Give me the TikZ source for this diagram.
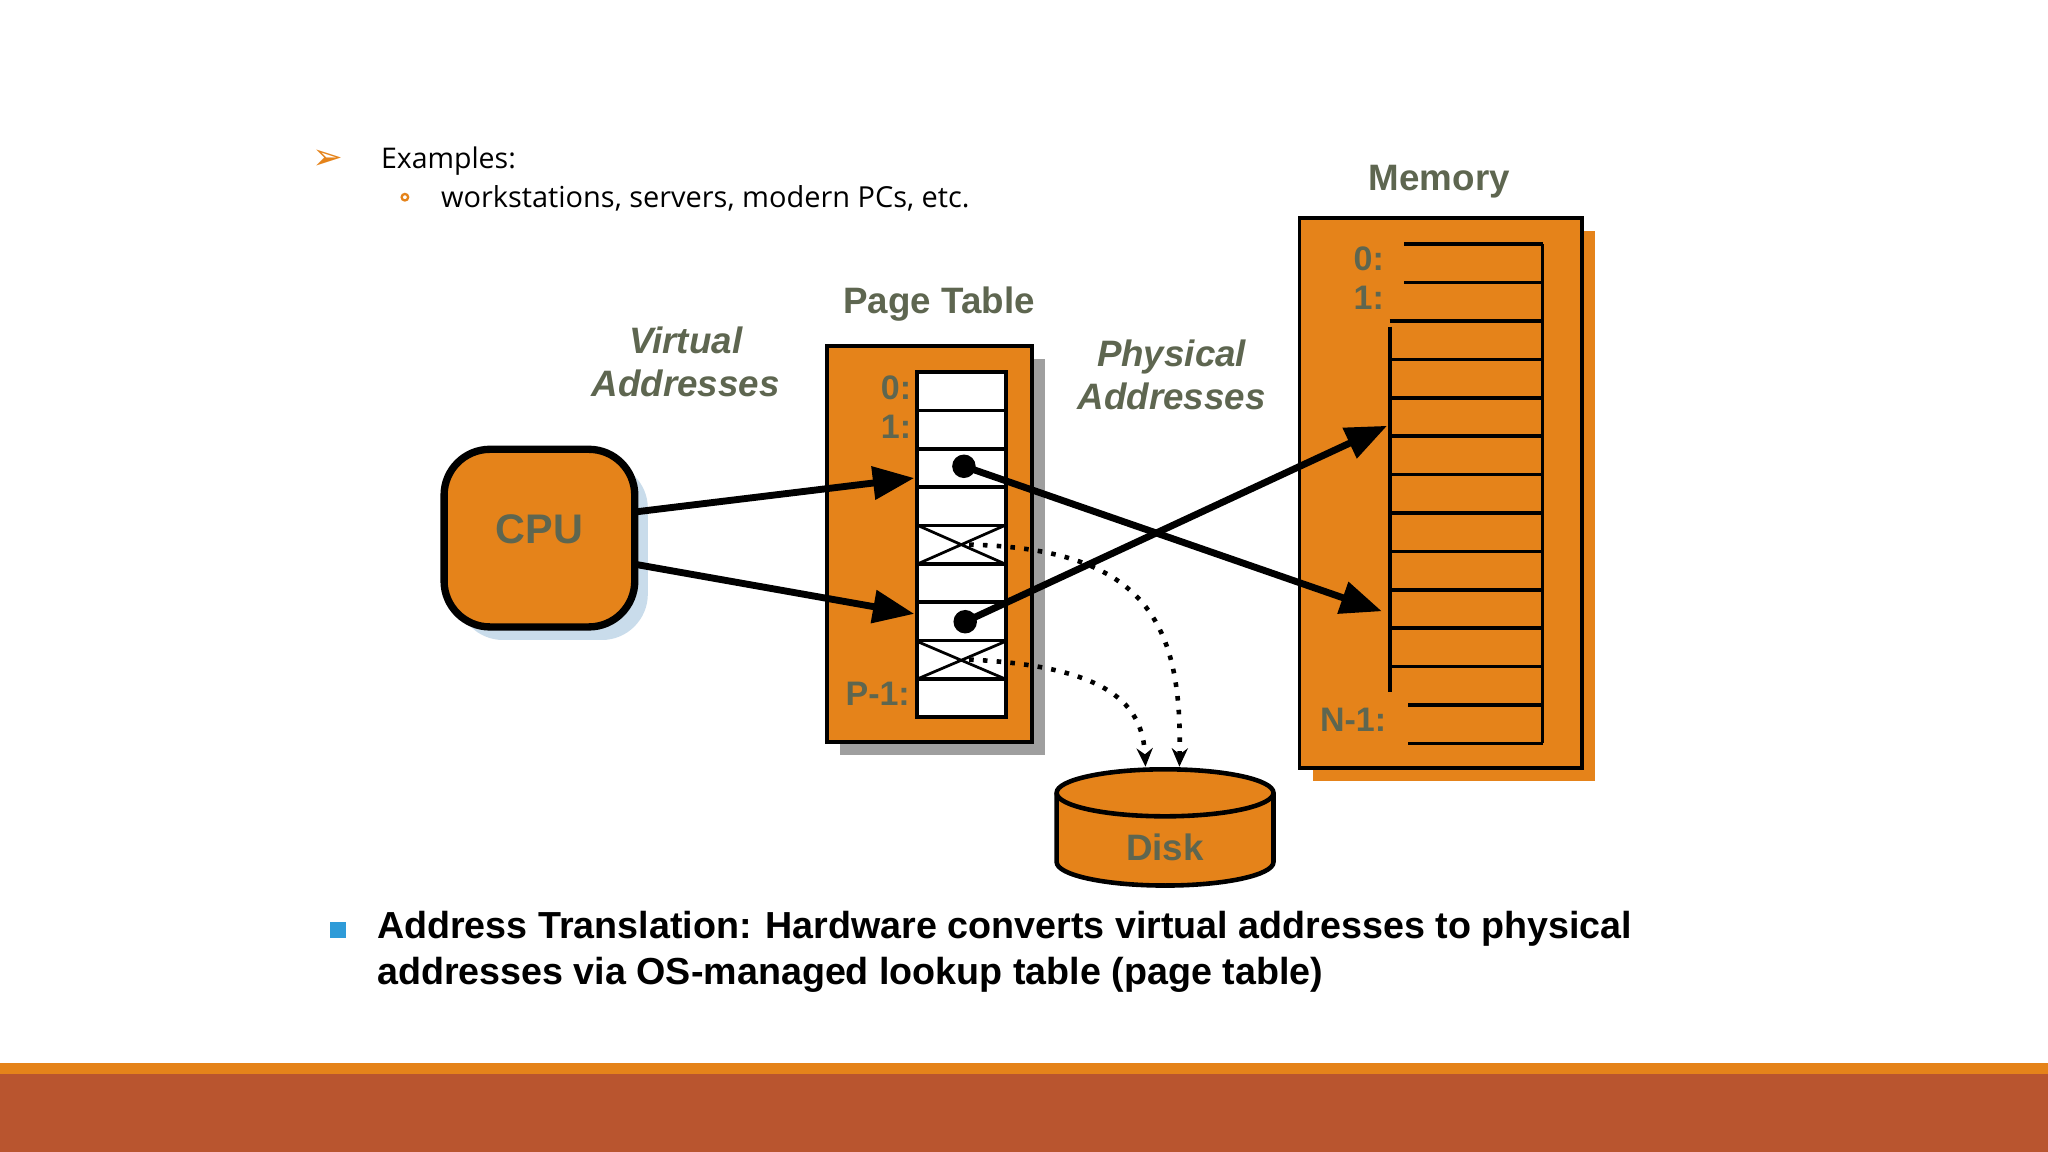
\documentclass[tikz,border=0pt]{standalone}
\usepackage{fontspec}
\setmainfont{Liberation Sans}
\newfontfamily\osans{Open Sans}
\usetikzlibrary{arrows.meta}
\definecolor{org}{HTML}{E5831A}
\definecolor{brick}{HTML}{B9552F}
\definecolor{olive}{HTML}{5E6650}
\definecolor{sblue}{HTML}{C9DCEB}
\definecolor{bblue}{HTML}{2E9BD8}
\tikzset{
 lab/.style={text=olive,font=\bfseries\fontsize{8}{9}\selectfont,inner sep=0},
 idx/.style={text=olive,font=\bfseries\fontsize{7.4}{8}\selectfont,inner sep=0},
 big/.style={-{Triangle[length=9pt,width=7pt]},line width=1.5pt},
 dots/.style={-{Stealth[length=4pt,width=3.5pt]},line width=1pt,dotted},
 box/.style={fill=org,draw=black,line width=0.8pt},
}
\begin{document}
\begin{tikzpicture}[x=0.01cm,y=-0.01cm]
\useasboundingbox (0,0) rectangle (1568,882);
\fill[white] (0,0) rectangle (1568,882);
% bottom bar
\fill[org] (0,814) rectangle (1568,822);
\fill[brick] (0,822) rectangle (1568,882);
% header text
\node[text=org,font=\fontsize{8}{9}\selectfont] (arr) at (251,122) {\fontspec{DejaVu Sans}➢};
\node[anchor=west,font=\osans\fontsize{6.2}{7}\selectfont,inner sep=0] (ex) at (291,123) {Examples:};
\draw[org,line width=0.5pt] (310,151) circle (2.5);
\node[anchor=west,font=\osans\fontsize{6.3}{7}\selectfont,inner sep=0] (ws) at (337,152) {workstations, servers, modern PCs, etc.};
% Memory
\node[lab] (memlab) at (1102,139) {Memory};
\fill[org] (1005,177) rectangle (1221,598);
\draw[box] (995,167) rectangle (1211,588);
\foreach \i in {0,...,13}{
  \pgfmathsetmacro\yy{187+\i*29.4}
  \ifnum\i<2 \draw[line width=0.8pt] (1075,\yy) -- (1181,\yy);
  \else\ifnum\i>11 \draw[line width=0.8pt] (1078,\yy) -- (1181,\yy);
  \else \draw[line width=0.8pt] (1064,\yy) -- (1181,\yy); \fi\fi
}
\draw[line width=0.8pt] (1181,187) -- (1181,569);
\draw[line width=0.8pt] (1064,250) -- (1064,530);
\node[idx] at (1048,198) {0:};
\node[idx] at (1048,228) {1:};
\node[idx] at (1036,551) {N-1:};
% Page table
\node[lab] (ptlab) at (719,233) {Page Table};
\fill[gray!75] (643,275) rectangle (800,578);
\draw[box] (633,265) rectangle (790,568);
\fill[white] (702,285) rectangle (770,549);
\foreach \i in {0,...,9}{\pgfmathsetmacro\yy{285+\i*29.33}\draw[line width=0.8pt] (702,\yy) -- (770,\yy);}
\draw[line width=0.8pt] (702,285) rectangle (770,549);
\draw[line width=0.6pt] (702,402) -- (770,432) (702,432) -- (770,402);
\draw[line width=0.6pt] (702,491) -- (770,520) (702,520) -- (770,491);
\node[idx] at (686,297) {0:};
\node[idx] at (686,327) {1:};
\node[idx] at (672,531) {P-1:};
% CPU
\fill[sblue,rounded corners=10pt] (350,354) rectangle (496,490);
\draw[box,line width=1.6pt,rounded corners=10pt] (340,344) rectangle (486,480);
\node[text=olive,font=\bfseries\fontsize{9}{10}\selectfont] (cpu) at (413,405) {CPU};
\node[text=olive,font=\bfseries\itshape\fontsize{8}{9.5}\selectfont,align=center] (va) at (525,277) {Virtual\\Addresses};
\node[text=olive,font=\bfseries\itshape\fontsize{8}{9.5}\selectfont,align=center] (pa) at (897,287) {Physical\\Addresses};
% arrows
\coordinate (c1) at (486,392); \coordinate (c2) at (486,432);
\coordinate (p1) at (700,366); \coordinate (p2) at (700,470);
\coordinate (d1) at (738,357); \coordinate (d2) at (739,476);
\coordinate (m1) at (1058,468); \coordinate (m2) at (1062,326);
\draw[big] (c1) -- (p1);
\draw[big] (c2) -- (p2);
\draw[big] (d1) -- (m1);
\draw[big] (d2) -- (m2);
\fill (d1) circle (9); \fill (d2) circle (9);
% disk
\draw[box,line width=1pt] (809,607) -- (809,660) arc[start angle=180,end angle=0,x radius=83,y radius=18] -- (975,607);
\draw[box,line width=1pt] (892,607) ellipse[x radius=83,y radius=18];
\node[text=olive,font=\bfseries\fontsize{8}{9}\selectfont] (disk) at (892,649) {Disk};
\coordinate (x1) at (742,417); \coordinate (x2) at (742,505);
\coordinate (k1) at (903,587); \coordinate (k2) at (877,587);
\draw[dots] (x1) .. controls (880,420) and (905,480) .. (k1);
\draw[dots] (x2) .. controls (850,510) and (875,540) .. (k2);
% bottom text
\fill[bblue] (253,706) rectangle (265,718);
\node[anchor=west,inner sep=0,align=left,font=\bfseries\fontsize{8.2}{10}\selectfont] (tx) at (288,729) {Address Translation: Hardware converts virtual addresses to physical\\addresses via OS-managed lookup table (page table)};
\end{tikzpicture}
\end{document}
